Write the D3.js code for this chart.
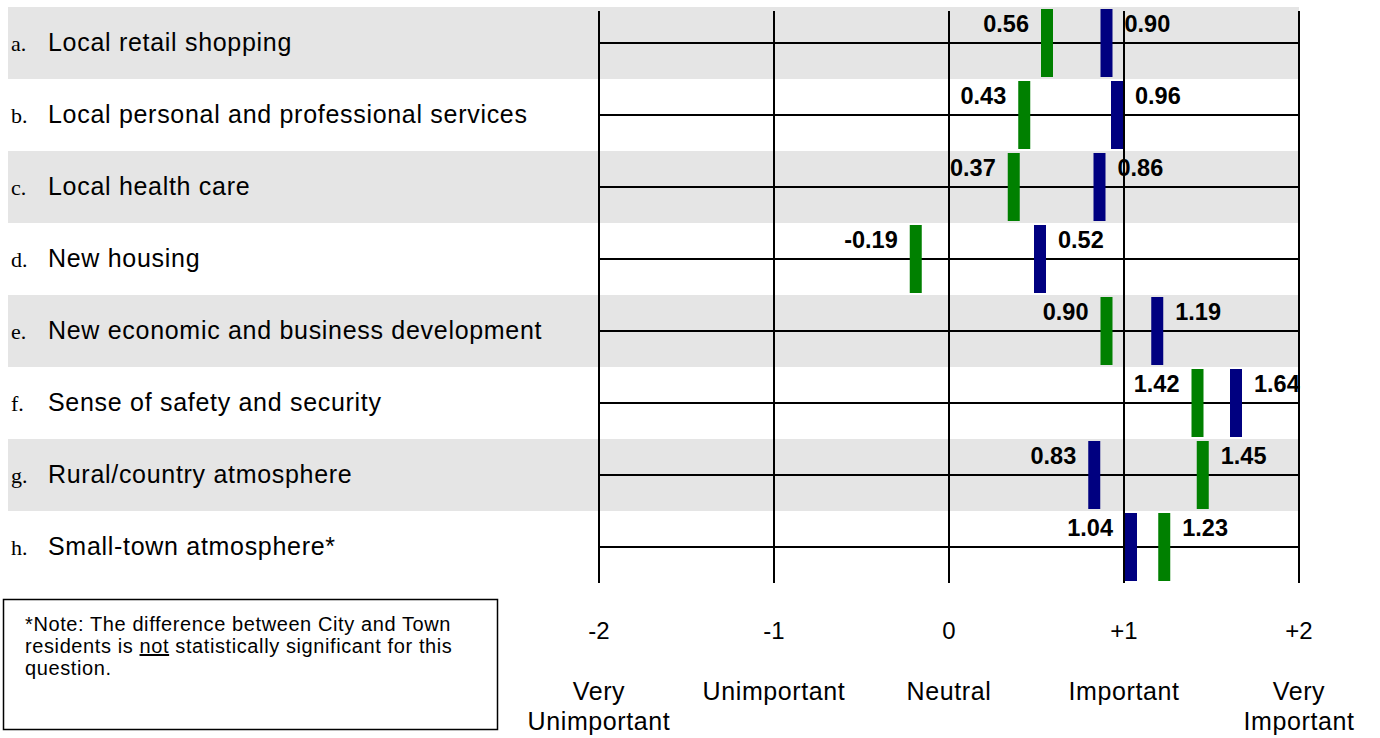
<!DOCTYPE html>
<html>
<head>
<meta charset="utf-8">
<script src="https://cdn.jsdelivr.net/npm/d3@7"></script>
<style>
  html, body { margin: 0; padding: 0; background: #fff; }
  svg { display: block; }
  .reg { font-family: "Liberation Sans", Arial, sans-serif; fill: #000; }
  .ser { font-family: "Liberation Serif", "Times New Roman", serif; fill: #000; }
  .bold { font-family: "Liberation Sans", Arial, sans-serif; font-weight: bold; fill: #000; }
</style>
</head>
<body>
<svg id="chart" width="1380" height="738"></svg>
<script>
// ---- data ----
const letters = ["a.", "b.", "c.", "d.", "e.", "f.", "g.", "h."];
const categories = [
  "Local retail shopping",
  "Local personal and professional services",
  "Local health care",
  "New housing",
  "New economic and business development",
  "Sense of safety and security",
  "Rural/country atmosphere",
  "Small-town atmosphere*"
];
const greenValues = [0.56, 0.43, 0.37, -0.19, 0.90, 1.42, 1.45, 1.23];
const blueValues  = [0.90, 0.96, 0.86, 0.52, 1.19, 1.64, 0.83, 1.04];
const tickValues = [-2, -1, 0, 1, 2];
const tickLabels = ["-2", "-1", "0", "+1", "+2"];
const tickDescriptors = [["Very", "Unimportant"], ["Unimportant"], ["Neutral"], ["Important"], ["Very", "Important"]];
const noteLines = [
  ["*Note: The difference between City and Town"],
  ["residents is ", "not", " statistically significant for this"],
  ["question."]
];

// ---- layout ----
const svg = d3.select("#chart");
const x = d3.scaleLinear().domain([-2, 2]).range([599, 1299]);
const y = d3.scaleBand().domain(categories).range([7, 583]).paddingInner(0).paddingOuter(0);
const bw = y.bandwidth();
const barW = 12, barH = 68, gap = 12;
const colors = { green: "#008000", blue: "#000080" };
const fmt = d3.formatLocale({ decimal: ".", thousands: ",", grouping: [3], currency: ["$", ""], minus: "-" }).format(".2f");

// gray bands
svg.append("g").selectAll("rect")
  .data(categories.filter((d, i) => i % 2 === 0))
  .join("rect")
  .attr("x", 8).attr("y", d => y(d))
  .attr("width", x(2) - 8).attr("height", bw)
  .attr("fill", "#e5e5e5");

// vertical grid lines
svg.append("g").selectAll("line")
  .data(tickValues)
  .join("line")
  .attr("x1", d => x(d)).attr("x2", d => x(d))
  .attr("y1", 11).attr("y2", 583)
  .attr("stroke", "#000").attr("stroke-width", 2);

// horizontal row lines
svg.append("g").selectAll("line")
  .data(categories)
  .join("line")
  .attr("x1", x(-2)).attr("x2", x(2))
  .attr("y1", d => y(d) + bw / 2).attr("y2", d => y(d) + bw / 2)
  .attr("stroke", "#000").attr("stroke-width", 2);

// category labels
const catG = svg.append("g");
catG.selectAll("text.letter")
  .data(letters)
  .join("text")
  .attr("class", "ser letter")
  .attr("x", 11)
  .attr("y", (d, i) => y(categories[i]) + bw / 2 + 8)
  .style("font-size", "22px")
  .text(d => d);
catG.selectAll("text.cat")
  .data(categories)
  .join("text")
  .attr("class", "reg cat")
  .attr("x", 48)
  .attr("y", d => y(d) + bw / 2 + 8)
  .style("font-size", "25px")
  .style("letter-spacing", "0.7px")
  .text(d => d);

// bars + value labels
const rows = categories.map((c, i) => ({ c, g: greenValues[i], b: blueValues[i] }));
const barsG = svg.append("g");
rows.forEach(r => {
  const items = [
    { v: r.g, color: colors.green },
    { v: r.b, color: colors.blue }
  ];
  const lo = r.g <= r.b ? items[0] : items[1];
  const hi = r.g <= r.b ? items[1] : items[0];
  lo.side = "left"; hi.side = "right";
  const top = y(r.c) + bw / 2 - barH / 2;
  items.forEach(it => {
    barsG.append("rect")
      .attr("x", x(it.v) - barW / 2)
      .attr("y", top)
      .attr("width", barW).attr("height", barH)
      .attr("fill", it.color);
  });
  items.forEach(it => {
    barsG.append("text")
      .attr("class", "bold")
      .attr("x", it.side === "left" ? x(it.v) - barW / 2 - gap : x(it.v) + barW / 2 + gap)
      .attr("y", top + 23)
      .attr("text-anchor", it.side === "left" ? "end" : "start")
      .style("font-size", "23.5px")
      .text(fmt(it.v));
  });
});

// tick labels
svg.append("g").selectAll("text")
  .data(tickValues)
  .join("text")
  .attr("class", "reg")
  .attr("x", d => x(d))
  .attr("y", 639)
  .attr("text-anchor", "middle")
  .style("font-size", "24px")
  .text((d, i) => tickLabels[i]);

// descriptors
const descG = svg.append("g").selectAll("text")
  .data(tickValues)
  .join("text")
  .attr("class", "reg")
  .attr("text-anchor", "middle")
  .style("font-size", "25px")
  .style("letter-spacing", "0.6px");
descG.selectAll("tspan")
  .data((d, i) => tickDescriptors[i].map((t, j) => ({ t, j, v: d })))
  .join("tspan")
  .attr("x", d => x(d.v))
  .attr("y", d => 700 + d.j * 30)
  .text(d => d.t);

// note box
svg.append("rect")
  .attr("x", 3.5).attr("y", 599.5)
  .attr("width", 494).attr("height", 130)
  .attr("fill", "none").attr("stroke", "#000").attr("stroke-width", 1.5);
const note = svg.append("g").selectAll("text")
  .data(noteLines)
  .join("text")
  .attr("class", "reg")
  .attr("x", 25)
  .attr("y", (d, i) => 631 + i * 22)
  .style("font-size", "20px")
  .style("letter-spacing", "0.6px");
note.selectAll("tspan")
  .data(d => d.map((t, j) => ({ t, u: t === "not" })))
  .join("tspan")
  .style("text-decoration", d => d.u ? "underline" : null)
  .text(d => d.t);
</script>
</body>
</html>
